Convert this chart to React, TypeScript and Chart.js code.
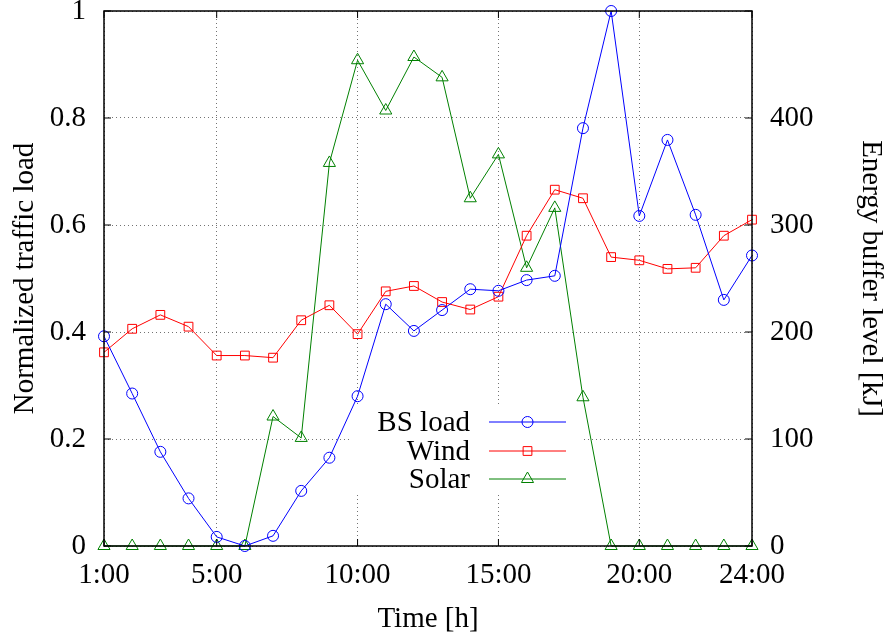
import React, { useEffect, useRef } from "react";
import { Chart, registerables } from "chart.js";

Chart.register(...registerables);

// ---- data ----
const hours = [1, 2, 3, 4, 5, 6, 7, 8, 9, 10, 11, 12, 13, 14, 15, 16, 17, 18, 19, 20, 21, 22, 23, 24];
// normalized traffic load (left axis)
const bsLoad = [0.392, 0.285, 0.176, 0.089, 0.017, 0.0, 0.019, 0.103, 0.165, 0.28, 0.452, 0.402, 0.441, 0.48, 0.477, 0.497, 0.505, 0.781, 1.0, 0.617, 0.759, 0.619, 0.46, 0.543];
// energy buffer level in kJ (right axis)
const wind = [181, 203, 216, 205, 178, 178, 176, 211, 225, 198, 238, 243, 228, 221, 233, 290, 333, 325, 270, 267, 259, 260, 290, 305];
const solar = [0, 0, 0, 0, 0, 0, 121, 101, 358, 454, 407, 457, 438, 325, 366, 260, 316, 139, 0, 0, 0, 0, 0, 0];

const xTickValues = [1, 5, 10, 15, 20, 24];
const seriesLabels = ["BS load", "Wind", "Solar"];
const seriesColors = ["#0000ff", "#ff0000", "#008000"];
const xTitle = "Time [h]";
const yTitle = "Normalized traffic load";
const y2Title = "Energy buffer level [kJ]";

const FONT = "'Liberation Serif', 'Times New Roman', serif";
const FS = 29;

function drawMarker(ctx: CanvasRenderingContext2D, style: string, x: number, y: number, r: number) {
  ctx.beginPath();
  if (style === "circle") {
    ctx.arc(x, y, r, 0, Math.PI * 2);
  } else if (style === "rect") {
    const s = Math.SQRT1_2 * r;
    ctx.rect(x - s, y - s, 2 * s, 2 * s);
  } else {
    ctx.moveTo(x, y - r);
    ctx.lineTo(x + 0.866 * r, y + r / 2);
    ctx.lineTo(x - 0.866 * r, y + r / 2);
    ctx.closePath();
  }
  ctx.stroke();
}

const framePlugin = {
  id: "gnuframe",
  beforeDatasetsDraw(chart: any) {
    const { ctx, chartArea } = chart;
    // opaque legend box
    ctx.save();
    ctx.fillStyle = "#ffffff";
    const bx = chartArea.left + 248;
    const by = chartArea.top + 393;
    ctx.fillRect(bx, by, 231, 91);
    ctx.restore();
  },
  afterDatasetsDraw(chart: any) {
    const { ctx, chartArea, scales } = chart;
    const { left, right, top, bottom } = chartArea;
    ctx.save();
    ctx.strokeStyle = "#000";
    ctx.lineWidth = 1;
    const tl = 7;
    // inward ticks
    ctx.beginPath();
    scales.x.ticks.forEach((t: any) => {
      const px = scales.x.getPixelForValue(t.value);
      ctx.moveTo(px, bottom);
      ctx.lineTo(px, bottom - tl);
      ctx.moveTo(px, top);
      ctx.lineTo(px, top + tl);
    });
    scales.y.ticks.forEach((t: any) => {
      const py = scales.y.getPixelForValue(t.value);
      ctx.moveTo(left, py);
      ctx.lineTo(left + tl, py);
    });
    scales.y2.ticks.forEach((t: any) => {
      const py = scales.y2.getPixelForValue(t.value);
      ctx.moveTo(right, py);
      ctx.lineTo(right - tl, py);
    });
    ctx.stroke();
    // frame
    ctx.lineWidth = 1.5;
    ctx.strokeRect(left, top, right - left, bottom - top);

    // legend
    const textX = left + 366;
    const lineX0 = left + 385;
    const lineX1 = left + 462;
    const rowY = [top + 411, top + 440, top + 468];
    ctx.font = `${FS}px ${FONT}`;
    ctx.textAlign = "right";
    ctx.textBaseline = "middle";
    chart.data.datasets.forEach((ds: any, i: number) => {
      const y = rowY[i];
      ctx.fillStyle = "#000";
      ctx.fillText(ds.label, textX, y + 1);
      ctx.strokeStyle = ds.borderColor;
      ctx.lineWidth = 1;
      ctx.beginPath();
      ctx.moveTo(lineX0, y);
      ctx.lineTo(lineX1, y);
      ctx.stroke();
      drawMarker(ctx, ds.pointStyle, (lineX0 + lineX1) / 2, y, ds.pointRadius);
    });
    ctx.restore();
  },
};

export default function App() {
  const ref = useRef<HTMLCanvasElement | null>(null);

  useEffect(() => {
    document.body.style.margin = "0";
    const canvas = ref.current;
    if (!canvas) return;

    const mk = (arr: number[]) => hours.map((h, i) => ({ x: h, y: arr[i] }));
    const gridOpts = { color: "rgba(0,0,0,0.55)", lineWidth: 1, drawTicks: false };
    const borderOpts = { display: false, dash: [1, 3] };
    const font = { family: FONT, size: FS };
    const noPad = (s: any) => {
      s.paddingTop = 0;
      s.paddingBottom = 0;
      s.paddingLeft = 0;
      s.paddingRight = 0;
    };

    const chart = new Chart(canvas, {
      type: "line",
      data: {
        datasets: [
          {
            label: seriesLabels[0],
            data: mk(bsLoad),
            yAxisID: "y",
            borderColor: seriesColors[0],
            pointBorderColor: seriesColors[0],
            pointBackgroundColor: "rgba(0,0,0,0)",
            pointStyle: "circle",
            pointRadius: 5.5,
            borderWidth: 1,
            pointBorderWidth: 1,
            fill: false,
            tension: 0,
            clip: false,
          },
          {
            label: seriesLabels[1],
            data: mk(wind),
            yAxisID: "y2",
            borderColor: seriesColors[1],
            pointBorderColor: seriesColors[1],
            pointBackgroundColor: "rgba(0,0,0,0)",
            pointStyle: "rect",
            pointRadius: 6.2,
            borderWidth: 1,
            pointBorderWidth: 1,
            fill: false,
            tension: 0,
            clip: false,
          },
          {
            label: seriesLabels[2],
            data: mk(solar),
            yAxisID: "y2",
            borderColor: seriesColors[2],
            pointBorderColor: seriesColors[2],
            pointBackgroundColor: "rgba(0,0,0,0)",
            pointStyle: "triangle",
            pointRadius: 7,
            borderWidth: 1,
            pointBorderWidth: 1,
            fill: false,
            tension: 0,
            clip: false,
          },
        ] as any,
      },
      options: {
        animation: false,
        responsive: false,
        devicePixelRatio: 1,
        layout: { padding: { top: 11, left: 0, right: 0, bottom: 0 } },
        plugins: { legend: { display: false }, tooltip: { enabled: false } },
        scales: {
          x: {
            type: "linear",
            min: 1,
            max: 24,
            afterBuildTicks: (s: any) => {
              s.ticks = xTickValues.map((v) => ({ value: v }));
            },
            afterFit: (s: any) => {
              s.height = 96;
              noPad(s);
            },
            ticks: {
              font,
              color: "#000",
              padding: 12,
              maxRotation: 0,
              autoSkip: false,
              callback: (v: any) => `${v}:00`,
            },
            grid: gridOpts,
            border: borderOpts,
            title: {
              display: true,
              text: xTitle,
              font,
              color: "#000",
              padding: { top: 0, bottom: 5 },
            },
          },
          y: {
            type: "linear",
            position: "left",
            min: 0,
            max: 1,
            afterFit: (s: any) => {
              s.width = 104;
              noPad(s);
            },
            ticks: {
              stepSize: 0.2,
              font,
              color: "#000",
              padding: 18,
              callback: (v: any) => String(Number(Number(v).toFixed(1))),
            },
            grid: gridOpts,
            border: borderOpts,
            title: {
              display: true,
              text: yTitle,
              font,
              color: "#000",
              padding: { top: 8, bottom: 0 },
            },
          },
          y2: {
            type: "linear",
            position: "right",
            min: 0,
            max: 500,
            afterFit: (s: any) => {
              s.width = 139;
              noPad(s);
            },
            ticks: {
              stepSize: 100,
              font,
              color: "#000",
              padding: 18,
              callback: (v: any) => (v === 500 ? "" : String(v)),
            },
            grid: { display: false, drawTicks: false },
            border: { display: false },
            title: {
              display: true,
              text: y2Title,
              font,
              color: "#000",
              padding: { top: 3, bottom: 0 },
            },
          },
        },
      } as any,
      plugins: [framePlugin],
    });

    return () => chart.destroy();
  }, []);

  return (
    <div style={{ width: 891, height: 642, background: "#fff" }}>
      <canvas ref={ref} width={891} height={642} style={{ display: "block" }} />
    </div>
  );
}
